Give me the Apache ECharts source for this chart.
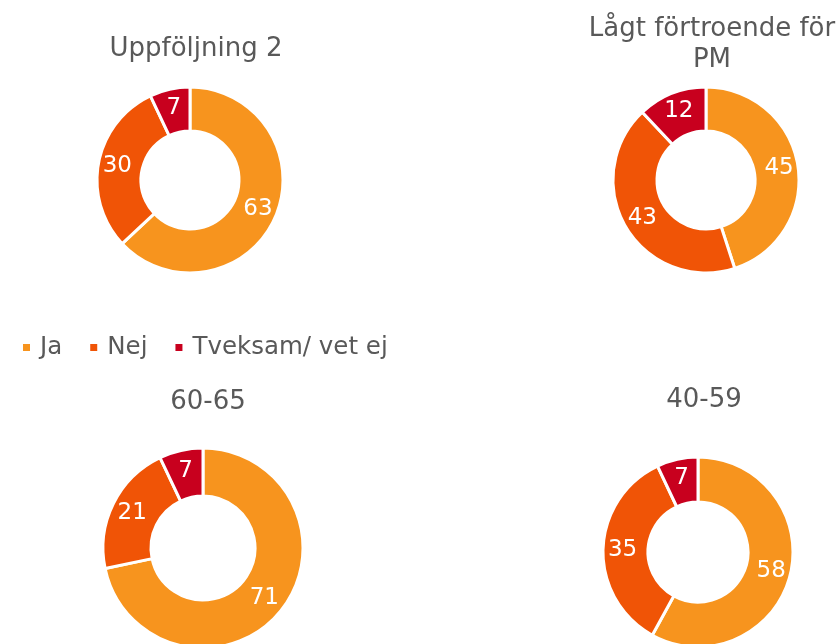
<!DOCTYPE html>
<html><head><meta charset="utf-8">
<script src="https://cdn.jsdelivr.net/npm/echarts@6/dist/echarts.min.js"></script>
<style>html,body{margin:0;padding:0;background:#fff}#c{width:839px;height:644px}</style>
</head><body><div id="c"></div>
<script>
const categories = ['Ja', 'Nej', 'Tveksam/ vet ej'];
const colors = ['#F7941E', '#F05406', '#C8001E'];
const titles = ['Uppföljning 2', 'Lågt förtroende för\nPM', '60-65', '40-59'];
const valuesUpp2 = [63, 30, 7];
const valuesLagt = [45, 43, 12];
const values6065 = [71, 21, 7];
const values4059 = [58, 35, 7];

const allValues = [valuesUpp2, valuesLagt, values6065, values4059];
const layout = [
  {c: [190, 180], r: [49, 93], t: [191, 29]},
  {c: [706, 180], r: [49, 93], t: [707, 9]},
  {c: [203, 548], r: [52, 100], t: [203, 382]},
  {c: [698, 552], r: [50, 95], t: [699, 380]}
];
const font = '"DejaVu Sans", Verdana, sans-serif';
const chart = echarts.init(document.getElementById('c'));
chart.setOption({
  animation: false,
  color: colors,
  title: titles.map((t, i) => ({
    text: t, left: layout[i].t[0], top: layout[i].t[1], textAlign: 'center',
    textStyle: {fontFamily: font, fontSize: 26, fontWeight: 'normal', color: '#595959', lineHeight: 31}
  })),
  legend: {
    data: categories, left: 16, top: 330, icon: 'rect', itemWidth: 9, itemHeight: 9, itemGap: 26,
    textStyle: {fontFamily: font, fontSize: 24.5, color: '#595959', padding: [0, 0, 0, 4]}
  },
  series: allValues.map((vals, i) => ({
    type: 'pie', center: layout[i].c, radius: layout[i].r, startAngle: 90, clockwise: true,
    avoidLabelOverlap: false,
    itemStyle: {borderColor: '#fff', borderWidth: 3},
    label: {show: true, position: 'inside', formatter: '{c}', color: '#fff', fontFamily: font, fontSize: 23},
    labelLine: {show: false},
    emphasis: {disabled: true},
    data: categories.map((name, j) => ({name, value: vals[j]}))
  }))
});
</script></body></html>
